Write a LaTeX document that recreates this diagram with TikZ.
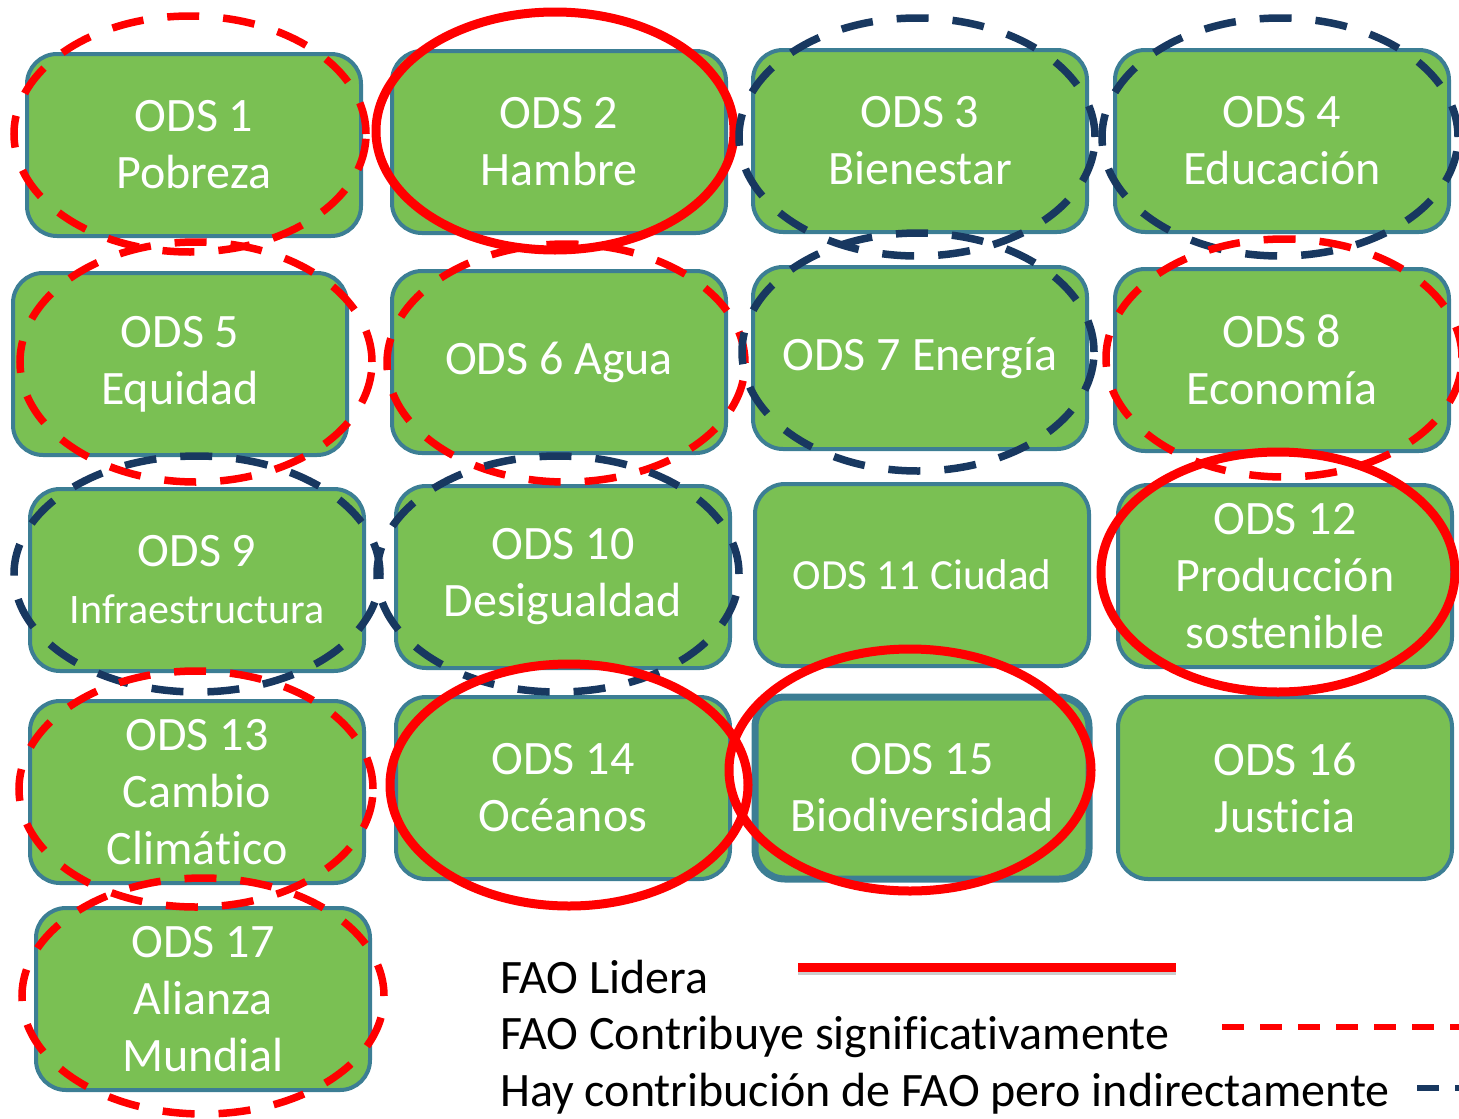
\documentclass[tikz,border=0pt]{standalone}
\usepackage{fontspec}
\setmainfont{Carlito}[Ligatures=CommonOff]
\definecolor{odsgreen}{RGB}{122,192,83}
\definecolor{odsborder}{RGB}{60,126,148}
\definecolor{faored}{RGB}{255,0,0}
\definecolor{faoblue}{RGB}{24,56,96}
\begin{document}
\begin{tikzpicture}[x=1pt, y=-1pt,
  every node/.style = {font=\fontsize{48}{57}\selectfont},
  ods/.style = {shape=rectangle, rounded corners=30pt,
    draw=odsborder, line width=4pt, fill=odsgreen, text=white,
    align=center, inner sep=0pt,
    minimum width=334pt, minimum height=182pt},
  legend/.style = {anchor=base west, inner sep=0pt,
    font=\fontsize{48}{57}\selectfont},
  lidera/.style = {draw=faored, line width=9pt},
  contribuye/.style = {draw=faored, line width=7.5pt,
    dash pattern=on 32pt off 24pt},
  indirecta/.style = {draw=faoblue, line width=7.5pt,
    dash pattern=on 32pt off 24pt}]
  \useasboundingbox (0,0) rectangle (1459,1119);
  % objetivos
  \node[ods] (ods1) at (194,145) {ODS 1\\Pobreza};
  \node[ods] (ods2) at (559,142) {ODS 2\\Hambre};
  \node[ods] (ods3) at (920,141) {ODS 3\\Bienestar};
  \node[ods] (ods4) at (1282,141) {ODS 4\\Educación};
  \node[ods] (ods5) at (180,364) {ODS 5\\Equidad};
  \node[ods] (ods6) at (559,362) {ODS 6 Agua};
  \node[ods] (ods7) at (920,358) {ODS 7 Energía};
  \node[ods] (ods8) at (1282,360) {ODS 8\\Economía};
  \node[ods] (ods9) at (197,580) {ODS 9\\{\fontsize{42}{57}\selectfont Infraestructura}};
  \node[ods] (ods10) at (563,577) {ODS 10\\Desigualdad};
  \node[ods] (ods11) at (922,575) {\fontsize{43}{57}\selectfont ODS 11 Ciudad};
  \node[ods] (ods12) at (1285,576) {ODS 12\\Producción\\sostenible};
  \node[ods] (ods13) at (197,792) {ODS 13\\Cambio\\Climático};
  \node[ods] (ods14) at (563,788) {ODS 14\\Océanos};
  \node[ods, line width=7pt] (ods15) at (922,788) {ODS 15\\Biodiversidad};
  \node[ods] (ods16) at (1285,788) {ODS 16\\Justicia};
  \node[ods] (ods17) at (203,999) {ODS 17\\Alianza\\Mundial};
  % papel de la FAO
  \draw[contribuye] (190,134) ellipse [x radius=176pt, y radius=118pt];
  \draw[lidera] (555,131) ellipse [x radius=179pt, y radius=119pt];
  \draw[indirecta] (917,137) ellipse [x radius=178pt, y radius=119pt];
  \draw[indirecta] (1280,137) ellipse [x radius=178pt, y radius=119pt];
  \draw[contribuye] (196,362) ellipse [x radius=176pt, y radius=120pt];
  \draw[contribuye] (566,363) ellipse [x radius=179pt, y radius=119pt];
  \draw[indirecta] (918,352) ellipse [x radius=176pt, y radius=119pt];
  \draw[contribuye] (1284,358) ellipse [x radius=178pt, y radius=119pt];
  \draw[indirecta] (197,574) ellipse [x radius=183pt, y radius=118pt];
  \draw[indirecta] (558,574) ellipse [x radius=181pt, y radius=118pt];
  \draw[lidera] (1278,572) ellipse [x radius=177pt, y radius=120pt];
  \draw[contribuye] (196,789) ellipse [x radius=177pt, y radius=118pt];
  \draw[lidera] (569,785) ellipse [x radius=179pt, y radius=121pt];
  \draw[lidera] (910,770) ellipse [x radius=181pt, y radius=121pt];
  \draw[contribuye] (203,996) ellipse [x radius=181pt, y radius=118pt];
  % leyenda
  \node[legend] (lidera) at (500,993) {FAO Lidera};
  \node[legend] (contribuye) at (500,1049) {FAO Contribuye significativamente};
  \node[legend] (indirecta) at (500,1106) {Hay contribución de FAO pero indirectamente};
  \coordinate (l1a) at (798,967);  \coordinate (l1b) at (1176,967);
  \coordinate (l2a) at (1222,1027); \coordinate (l2b) at (1459,1027);
  \coordinate (l3a) at (1417,1088); \coordinate (l3b) at (1459,1088);
  \draw[lidera, preaction={draw=black!20, line width=10pt,
    transform canvas={yshift=-3pt}}] (l1a) -- (l1b);
  \draw[faored, line width=6pt, dash pattern=on 22pt off 16pt] (l2a) -- (l2b);
  \draw[faoblue, line width=6pt, dash pattern=on 22pt off 16pt] (l3a) -- (l3b);
\end{tikzpicture}
\end{document}
